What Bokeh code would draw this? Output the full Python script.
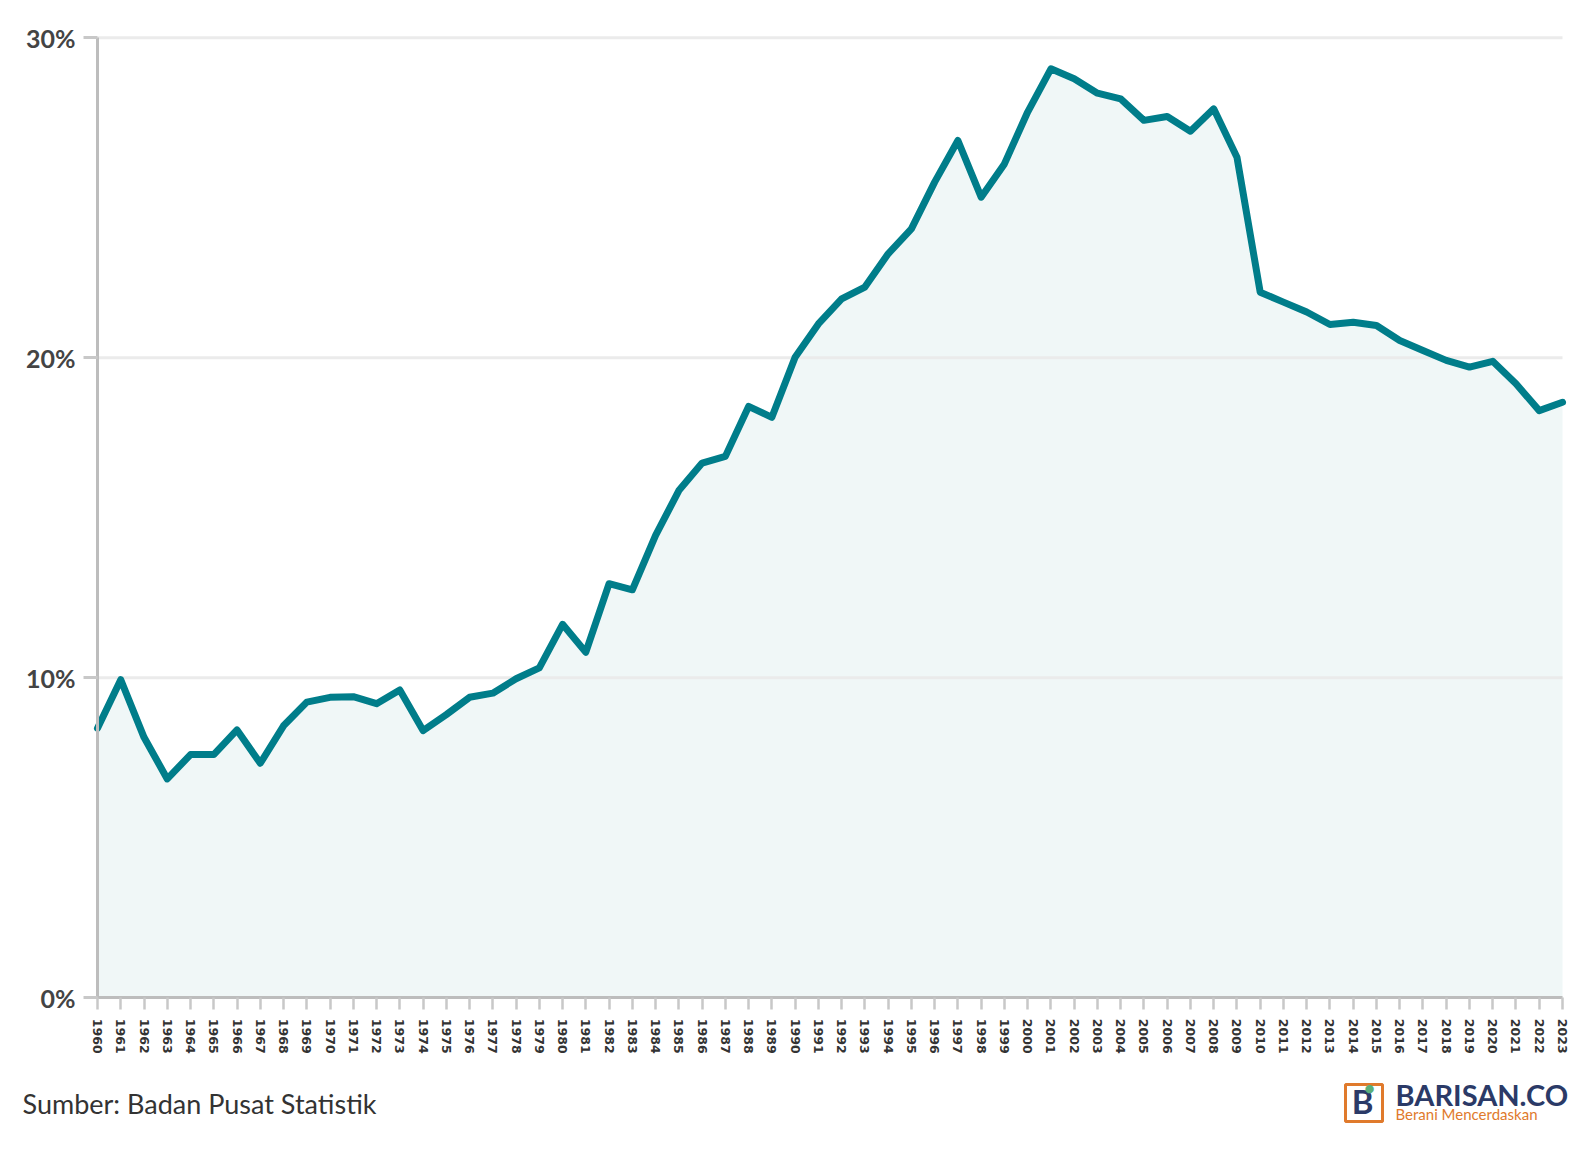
from bokeh.plotting import figure
from bokeh.models import (Range1d, FixedTicker, PrintfTickFormatter, Label,
                          BoxAnnotation)
from bokeh.embed import file_html
from bokeh.resources import INLINE

years = list(range(1960, 2024))
share = [8.42, 9.94, 8.14, 6.84, 7.60, 7.60, 8.37, 7.33, 8.50, 9.24,
         9.39, 9.41, 9.19, 9.62, 8.35, 8.85, 9.39, 9.52, 9.97, 10.31,
         11.67, 10.80, 12.94, 12.75, 14.45, 15.85, 16.71, 16.92, 18.48, 18.14,
         20.02, 21.06, 21.84, 22.21, 23.25, 24.03, 25.49, 26.79, 25.02, 26.06,
         27.68, 29.03, 28.72, 28.27, 28.09, 27.42, 27.54, 27.08, 27.78, 26.27,
         22.05, 21.74, 21.43, 21.04, 21.11, 21.01, 20.54, 20.23, 19.92, 19.71,
         19.89, 19.19, 18.35, 18.61]
y_ticks = [0, 10, 20, 30]
source_text = "Sumber: Badan Pusat Statistik"
brand = "BARISAN.CO"
tagline = "Berani Mencerdaskan"

LINE = "#007D8A"
FILL = "#F0F7F7"
AXIS = "#BDBDBD"
TICK = "#C8C8C8"
GRID = "#EBEBEB"
TXT = "#444444"
NAVY = "#2B3A67"
ORANGE = "#E07A2C"

# canvas layout (pixels)
W, H = 1576, 1130
PX_LEFT, PX_RIGHT = 97, 1562      # x of first / last year
PX_TOP, PX_ZERO = 37.3, 997.3     # y of top tick / zero line

x0, x1 = years[0], years[-1]
ymax = y_ticks[-1]
kx = (PX_RIGHT - PX_LEFT) / (x1 - x0)
ky = (PX_ZERO - PX_TOP) / ymax

p = figure(width=W, height=H, output_backend="svg", toolbar_location=None,
           x_range=Range1d(x0 - PX_LEFT / kx, x1 + (W - PX_RIGHT) / kx),
           y_range=Range1d(-(H - PX_ZERO) / ky, ymax + PX_TOP / ky),
           min_border=0)
p.outline_line_color = None
p.background_fill_color = "white"
p.border_fill_color = "white"
p.xgrid.visible = False
p.ygrid.visible = False

# area + gridlines (over the fill) + line
p.varea(x=years, y1=0, y2=share, fill_color=FILL, fill_alpha=1.0)
p.segment(x0=[x0] * (len(y_ticks) - 1), x1=[x1] * (len(y_ticks) - 1),
          y0=y_ticks[1:], y1=y_ticks[1:], line_color=GRID, line_width=3)
p.line(x=years, y=share, line_color=LINE, line_width=7,
       line_join="round", line_cap="round")

# y axis (fixed at first year)
ya = p.yaxis[0]
ya.fixed_location = x0
ya.bounds = (0, ymax)
ya.ticker = FixedTicker(ticks=y_ticks)
ya.formatter = PrintfTickFormatter(format="%d%%")
ya.axis_line_color = AXIS
ya.axis_line_width = 3
ya.major_tick_line_color = TICK
ya.major_tick_line_width = 3
ya.major_tick_in = 0
ya.major_tick_out = 14
ya.minor_tick_line_color = None
ya.major_label_standoff = 8
ya.major_label_text_font = "Lato"
ya.major_label_text_font_style = "bold"
ya.major_label_text_font_size = "25px"
ya.major_label_text_color = TXT

# x axis (fixed at zero)
xa = p.xaxis[0]
xa.fixed_location = 0
xa.bounds = (x0, x1)
xa.ticker = FixedTicker(ticks=years)
xa.axis_line_color = AXIS
xa.axis_line_width = 3
xa.major_tick_line_color = TICK
xa.major_tick_line_width = 2.5
xa.major_tick_in = 0
xa.major_tick_out = 12
xa.minor_tick_line_color = None
xa.major_label_orientation = "vertical"
xa.major_label_standoff = 9
xa.major_label_text_font = "DejaVu Sans"
xa.major_label_text_font_style = "bold"
xa.major_label_text_font_size = "12.5px"
xa.major_label_text_color = "#333333"

# footer (screen units: from left / from bottom of the canvas)
p.add_layout(Label(x=22, y=H - 1103, x_units="screen", y_units="screen",
                   text=source_text, text_font="Lato", text_font_size="27px",
                   text_color="#333333", text_baseline="alphabetic"))
p.add_layout(BoxAnnotation(left=1345, right=1382, top=H - 1084,
                           bottom=H - 1121, left_units="screen",
                           right_units="screen", top_units="screen",
                           bottom_units="screen", fill_color=None,
                           line_color=ORANGE, line_width=3, line_alpha=1.0))
p.add_layout(Label(x=1362, y=H - 1100, x_units="screen", y_units="screen",
                   text="B", text_font="Lato", text_font_style="bold",
                   text_font_size="33px", text_color=NAVY,
                   text_align="center", text_baseline="middle"))
p.add_layout(Label(x=1369, y=H - 1088, x_units="screen", y_units="screen",
                   text="\u25CF", text_font="DejaVu Sans",
                   text_font_size="11px", text_color="#5BAF7A",
                   text_align="center", text_baseline="middle"))
p.add_layout(Label(x=1395, y=H - 1094, x_units="screen", y_units="screen",
                   text=brand, text_font="Lato", text_font_style="bold",
                   text_font_size="29px", text_color=NAVY,
                   text_baseline="alphabetic"))
p.add_layout(Label(x=1395, y=H - 1113, x_units="screen", y_units="screen",
                   text=tagline, text_font="Lato", text_font_size="15px",
                   text_color=ORANGE, text_baseline="alphabetic"))

open("out.html", "w").write(file_html(p, INLINE))
